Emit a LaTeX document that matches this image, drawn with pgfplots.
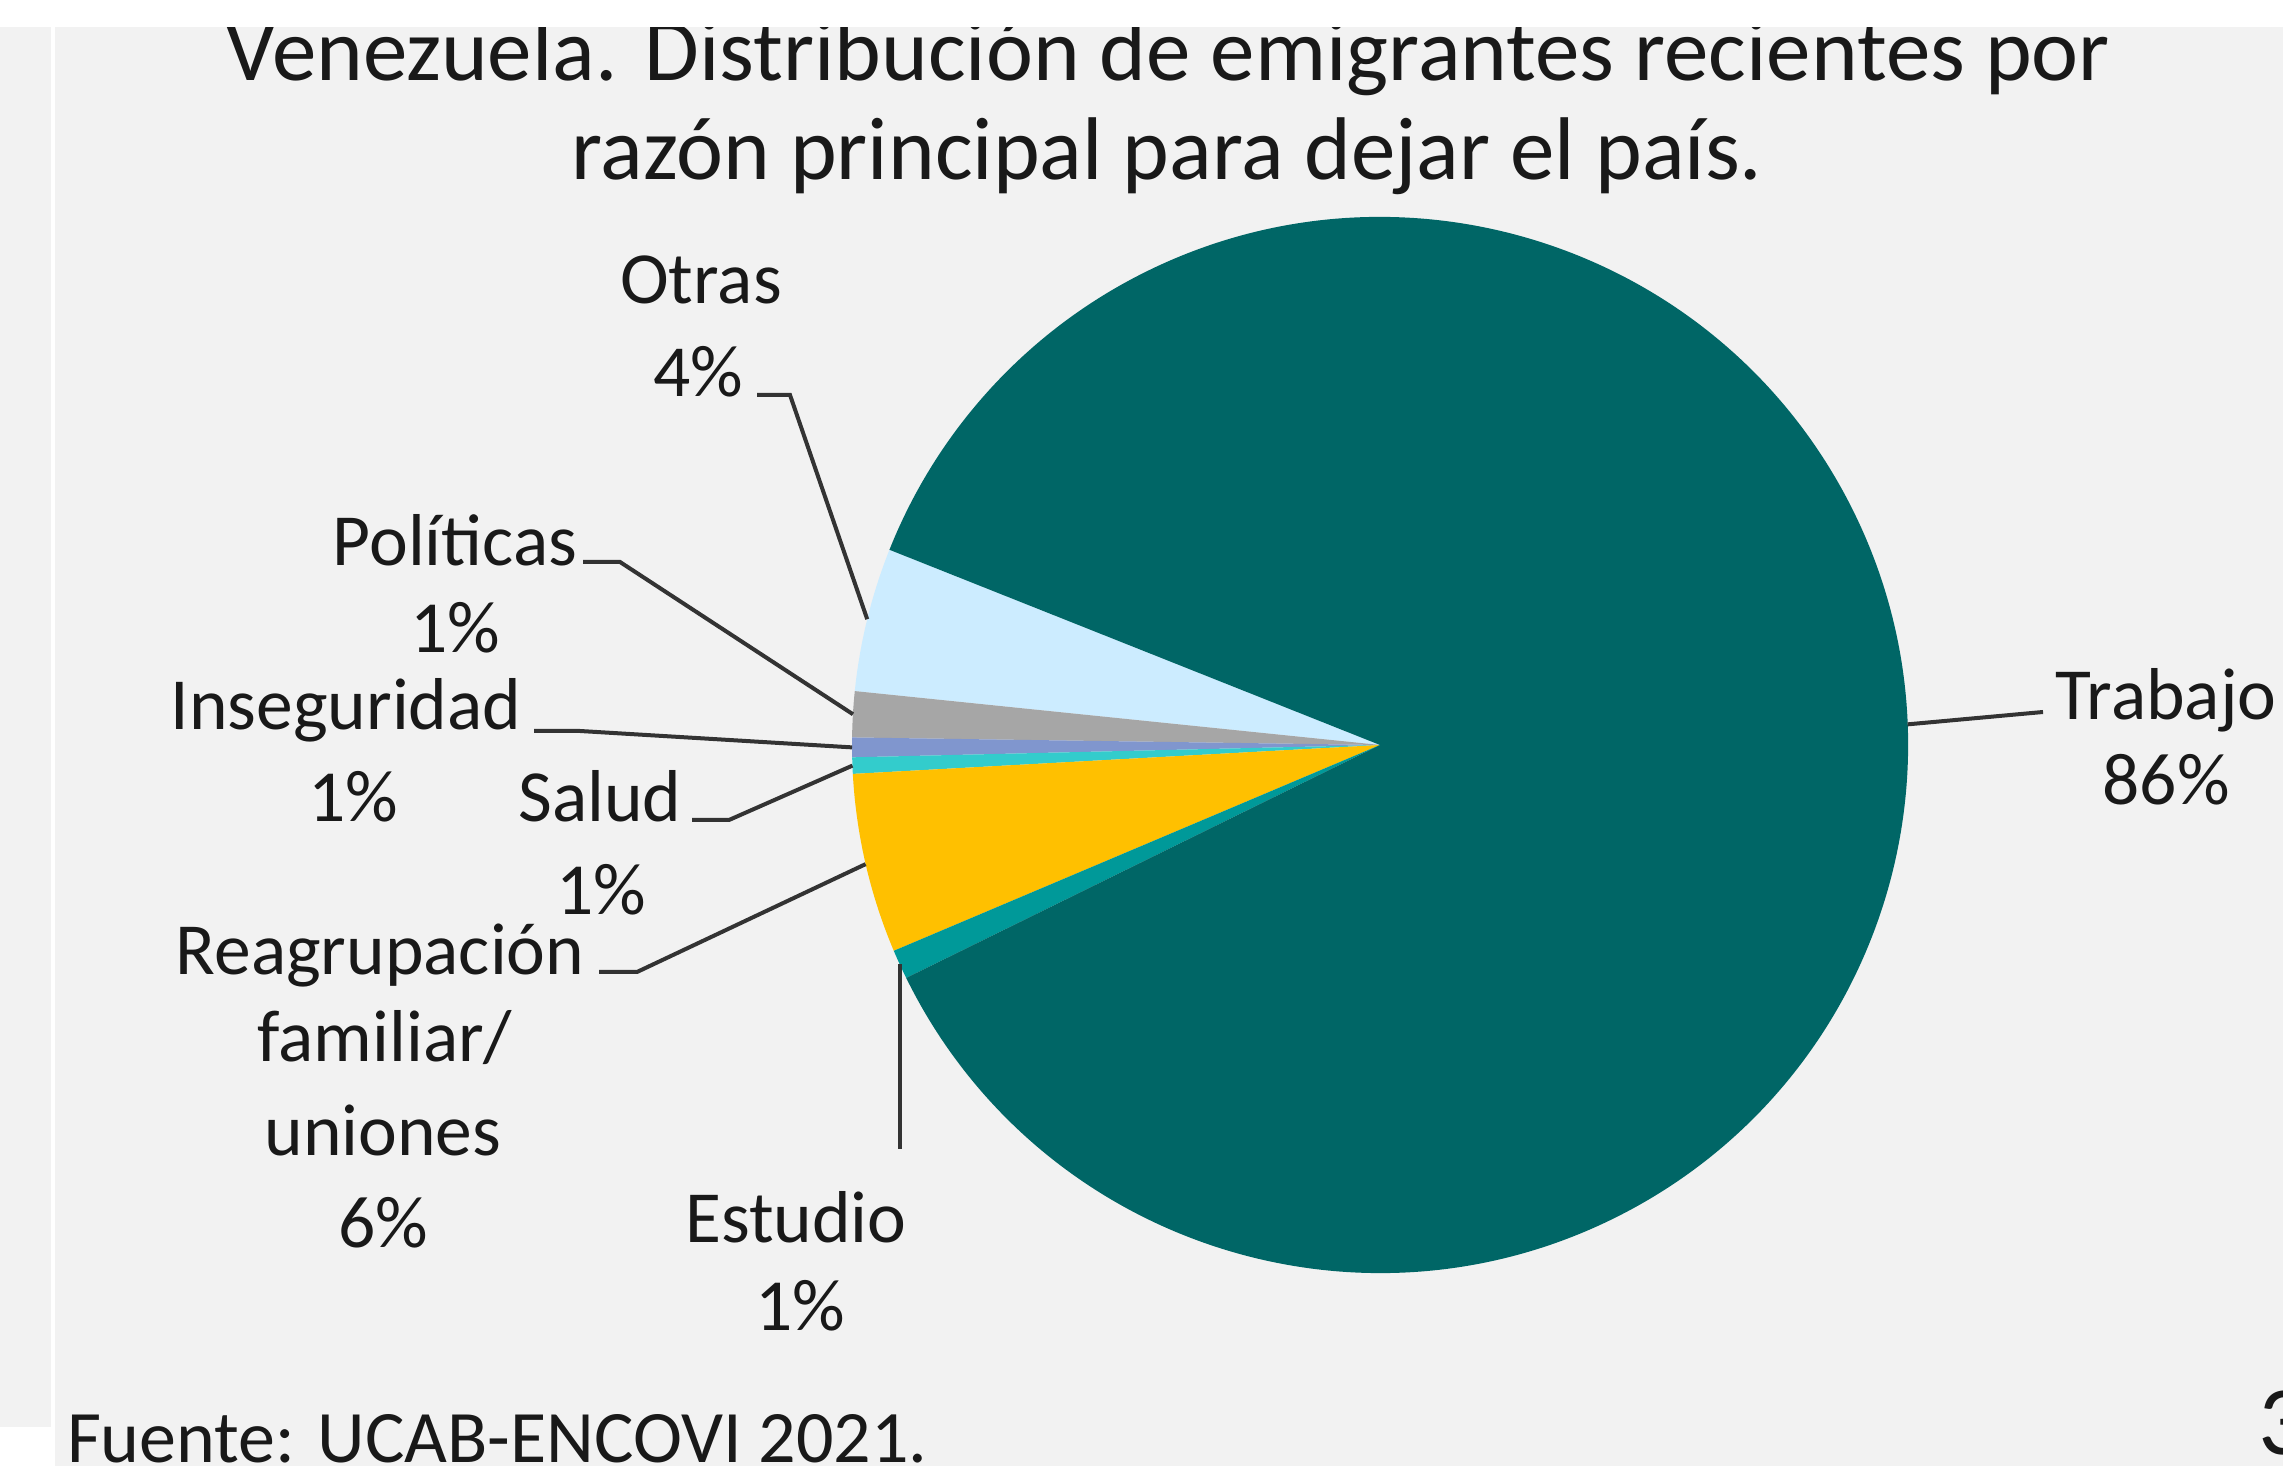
\documentclass[border=0pt]{standalone}
\usepackage{fontspec}
\setmainfont{Carlito}
\usepackage{pgfplots}
\pgfplotsset{compat=1.18}
\definecolor{bg}{HTML}{F2F2F2}
\definecolor{slice1}{HTML}{CCECFF}% Otras
\definecolor{slice2}{HTML}{A6A6A6}% Politicas
\definecolor{slice3}{HTML}{8096CE}% Inseguridad
\definecolor{slice4}{HTML}{33CCCC}% Salud
\definecolor{slice5}{HTML}{FFC000}% Reagrupacion
\definecolor{slice6}{HTML}{009999}% Estudio
\definecolor{slice7}{HTML}{006666}% Trabajo

\begin{document}
\begin{tikzpicture}
% shares (%), counter-clockwise starting at 158.3 deg
\def\R{105.6pt}
\xdef\acc{158.3}
\foreach \v [count=\i] in {4.4,1.4,0.6,0.5,5.5,0.9,86.7} {
  \pgfmathsetmacro\e{\acc+3.6*\v}
  \pgfmathsetmacro\m{\acc+1.8*\v}
  \expandafter\xdef\csname sa\i\endcsname{\acc}
  \expandafter\xdef\csname ea\i\endcsname{\e}
  \expandafter\xdef\csname ma\i\endcsname{\m}
  \xdef\acc{\e}
}
\tikzset{
  lbl/.style={anchor=base, inner sep=0pt, text=black!90, font=\fontsize{14.7}{17}\selectfont},
  lead/.style={draw=black!80, line width=0.8pt},
}
\begin{axis}[x=0.2pt, y=0.2pt, xmin=0, xmax=2283, ymin=0, ymax=1466,
  y dir=reverse, hide axis, clip=false]
  \fill[white] (axis cs:0,0) rectangle (axis cs:2283,1466);
  \fill[bg] (axis cs:0,27) rectangle (axis cs:51,1427);
  \fill[bg] (axis cs:55,27) rectangle (axis cs:2283,1466);

  \pgfplotsinvokeforeach{1,...,7}{
    \fill[slice#1] (axis cs:1380,745) -- ++(\csname sa#1\endcsname:\R)
      arc[start angle=\csname sa#1\endcsname, end angle=\csname ea#1\endcsname, radius=\R] -- cycle;
  }

  % leader lines
  \draw[lead] (axis cs:1380,745) ++(\csname ma1\endcsname:\R) -- (axis cs:790,395) -- (axis cs:757,395);
  \draw[lead] (axis cs:1380,745) ++(\csname ma2\endcsname:\R) -- (axis cs:620,562) -- (axis cs:583,562);
  \draw[lead] (axis cs:1380,745) ++(\csname ma3\endcsname:\R) -- (axis cs:580,731) -- (axis cs:534,731);
  \draw[lead] (axis cs:1380,745) ++(\csname ma4\endcsname:\R) -- (axis cs:729,820) -- (axis cs:692,820);
  \draw[lead] (axis cs:1380,745) ++(\csname ma5\endcsname:\R) -- (axis cs:637,972) -- (axis cs:599,972);
  \draw[lead] (axis cs:1380,745) ++(\csname ma6\endcsname:\R) -- ++(0pt,-37pt);
  \draw[lead] (axis cs:1380,745) ++(\csname ma7\endcsname:\R) -- (axis cs:2043,712);

  % data labels
  \node[lbl] at (axis cs:701,304) {Otras};
  \node[lbl] at (axis cs:698,397) {4\%};
  \node[lbl] at (axis cs:455,566) {Políticas};
  \node[lbl] at (axis cs:455,653) {1\%};
  \node[lbl] at (axis cs:346,730) {Inseguridad};
  \node[lbl] at (axis cs:353,822) {1\%};
  \node[lbl] at (axis cs:600,822) {Salud};
  \node[lbl] at (axis cs:601,915) {1\%};
  \node[lbl] at (axis cs:380,975) {Reagrupación};
  \node[lbl] at (axis cs:385,1062) {familiar/};
  \node[lbl] at (axis cs:383,1155) {uniones};
  \node[lbl] at (axis cs:383,1247) {6\%};
  \node[lbl] at (axis cs:796,1242) {Estudio};
  \node[lbl] at (axis cs:800,1330) {1\%};
  \node[lbl] at (axis cs:2166,720) {Trabajo};
  \node[lbl] at (axis cs:2166,805) {86\%};

  % title
  \node[lbl, font=\fontsize{17.8}{21}\selectfont] at (axis cs:1168,81) {Venezuela. Distribución de emigrantes recientes por};
  \node[lbl, font=\fontsize{17.8}{21}\selectfont] at (axis cs:1167,180) {razón principal para dejar el país.};
  \fill[white] (axis cs:0,0) rectangle (axis cs:2283,27);

  \node[lbl, anchor=base west, font=\fontsize{14.8}{18}\selectfont] at (axis cs:66,1462) {Fuente: UCAB-ENCOVI 2021.};
  \node[lbl, anchor=base west, font=\fontsize{19.6}{22}\selectfont] at (axis cs:2257,1454) {3};
\end{axis}
\pgfresetboundingbox
\path[use as bounding box] (current axis.south west) rectangle (current axis.north east);
\end{tikzpicture}
\end{document}
